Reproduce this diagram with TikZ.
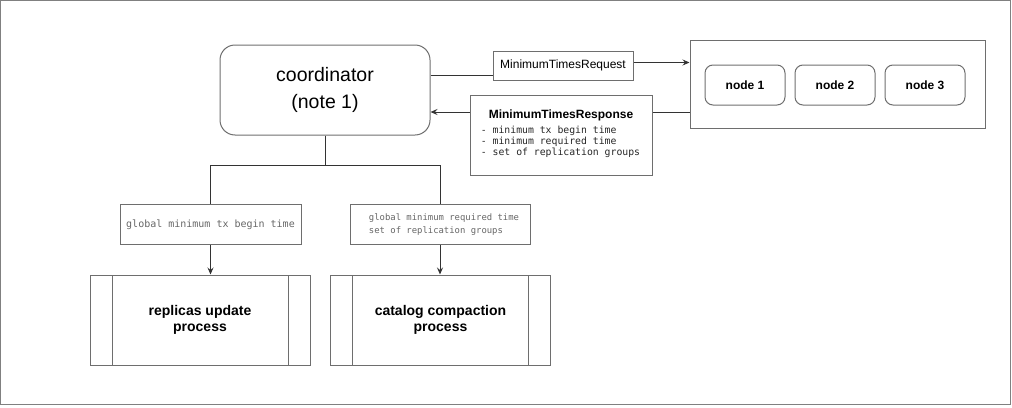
\documentclass[tikz,border=0pt]{standalone}
\usepackage{fontspec}
\setmainfont{Liberation Sans}
\setmonofont{DejaVu Sans Mono}
\usepackage{xcolor}
\usetikzlibrary{arrows.meta}
\definecolor{boxgray}{HTML}{6E6E6E}
\definecolor{framegray}{HTML}{808080}
\definecolor{notegray}{HTML}{666666}

\begin{document}
\begin{tikzpicture}[x=1pt,y=-1pt,>={Stealth[length=7pt,width=6pt,inset=2.5pt]},
                    box/.style={draw=boxgray,line width=1pt,inner sep=0pt,align=center},
                    wire/.style={draw=black!80,line width=1pt},
                    note/.style={box,minimum height=40pt,text=notegray},
                    procbox/.style={box,minimum width=220pt,minimum height=90pt,
                      font=\bfseries\fontsize{14}{16}\selectfont,
                      path picture={\draw[boxgray,line width=1pt]
                        ([xshift=22pt]path picture bounding box.north west) --
                        ([xshift=22pt]path picture bounding box.south west)
                        ([xshift=-22pt]path picture bounding box.north east) --
                        ([xshift=-22pt]path picture bounding box.south east);}}]
  \useasboundingbox (0,0) rectangle (1012,407);
  \draw[framegray,line width=1pt] (0.5,0.5) rectangle (1010,404);
  \node[box,rounded corners=15pt,minimum width=210pt,minimum height=90pt,
        font=\fontsize{19.5}{27.5}\selectfont] (coord) at (325,90) {coordinator\\(note 1)};
  \node[box,minimum width=140pt,minimum height=29pt,
        font=\fontsize{12}{14}\selectfont] (req) at (563,65.5) {MinimumTimesRequest};
  \node[box,minimum width=182pt,minimum height=80pt] (resp) at (561,135) {};
  \node[font=\bfseries\fontsize{12}{14}\selectfont] (resptitle) at (561,115) {MinimumTimesResponse};
  \node[font=\ttfamily\fontsize{9.8}{11}\selectfont,align=left,inner sep=0pt,text=black!85] (resplist) at (560.5,141.5)
      {- minimum tx begin time\\- minimum required time\\- set of replication groups};
  \node[box,minimum width=295pt,minimum height=88pt] (cluster) at (837.5,84) {};
  \foreach \i/\x in {1/745,2/835,3/925}
    \node[box,rounded corners=8pt,minimum width=80pt,minimum height=40pt,
          font=\bfseries\fontsize{12}{14}\selectfont] (n\i) at (\x,85) {node \i};
  \node[note,minimum width=181pt,font=\ttfamily\fontsize{10}{12}\selectfont] (lab1) at (210.5,224.5)
      {global minimum tx begin time};
  \node[note,minimum width=180pt,align=left,font=\ttfamily\fontsize{8.9}{13.7}\selectfont] (lab2) at (440,224.5)
      {\hspace*{8pt}global minimum required time\\\hspace*{8pt}set of replication groups};
  \node[procbox] (proc1) at (200,320) {replicas update\\process};
  \node[procbox] (proc2) at (440.5,320) {catalog compaction\\process};
  \coordinate (reqin) at ([yshift=5.5pt]req.south west);
  \coordinate (reqout) at ([yshift=3pt]req.east);
  \coordinate (respout) at ([yshift=23pt]resp.west);
  \draw[wire] (reqin -| coord.east) -- (reqin);
  \draw[wire,->] (reqout) -- (reqout -| cluster.west);
  \draw[wire] (respout -| cluster.west) -- (respout -| resp.east);
  \draw[wire,->] (respout) -- (respout -| coord.east);
  \draw[wire] (coord.south) -- ++(0,30) -| (lab1.north);
  \draw[wire] (coord.south) -- ++(0,30) -| (lab2.north);
  \draw[wire,->] (lab1.south) -- (lab1.south |- proc1.north);
  \draw[wire,->] (lab2.south) -- (lab2.south |- proc2.north);
\end{tikzpicture}
\end{document}
